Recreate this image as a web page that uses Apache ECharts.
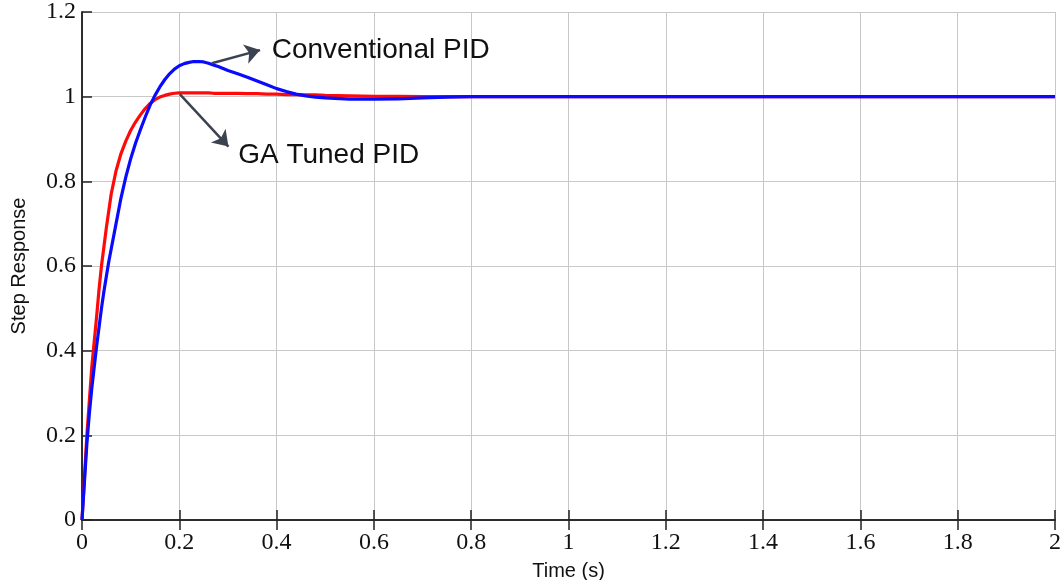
<!DOCTYPE html>
<html>
<head>
<meta charset="utf-8">
<script src="https://cdn.jsdelivr.net/npm/echarts@6/dist/echarts.min.js"></script>
<style>
  html, body { margin: 0; padding: 0; background: #fff; }
  #chart { width: 1063px; height: 580px; }
</style>
</head>
<body>
<div id="chart"></div>
<script>
// time samples (s)
const time = [0, 0.005, 0.01, 0.015, 0.02, 0.025, 0.03, 0.035, 0.04, 0.045, 0.05, 0.055, 0.06,
  0.07, 0.08, 0.09, 0.10, 0.11, 0.12, 0.13, 0.14, 0.15, 0.16, 0.17, 0.18, 0.19, 0.20,
  0.21, 0.22, 0.23, 0.24, 0.25, 0.26, 0.27, 0.28,
  0.30, 0.32, 0.34, 0.36, 0.38, 0.40, 0.42, 0.44, 0.46, 0.48, 0.50,
  0.55, 0.60, 0.65, 0.70, 0.75, 0.80,
  0.9, 1.0, 1.2, 1.4, 1.6, 1.8, 2.0]

// GA tuned PID response (red)
const gaTuned = [0, 0.10, 0.20, 0.28, 0.36, 0.42, 0.48, 0.545, 0.60, 0.645, 0.69, 0.73, 0.77,
  0.825, 0.865, 0.895, 0.92, 0.94, 0.957, 0.972, 0.984, 0.993, 0.999, 1.003, 1.006, 1.008, 1.009,
  1.009, 1.009, 1.009, 1.009, 1.009, 1.009, 1.008, 1.008,
  1.008, 1.008, 1.007, 1.007, 1.006, 1.006, 1.005, 1.005, 1.004, 1.004, 1.003,
  1.002, 1.001, 1.0005, 1.0, 1.0, 1.0,
  1.0, 1.0, 1.0, 1.0, 1.0, 1.0, 1.0]

// conventional PID response (blue)
const conventional = [0, 0.09, 0.18, 0.25, 0.31, 0.36, 0.41, 0.455, 0.50, 0.54, 0.575, 0.61, 0.64,
  0.70, 0.76, 0.81, 0.853, 0.89, 0.922, 0.952, 0.98, 1.003, 1.023, 1.040, 1.054, 1.065, 1.073,
  1.078, 1.081, 1.083, 1.083, 1.082, 1.079, 1.075, 1.071,
  1.062, 1.054, 1.046, 1.037, 1.028, 1.019, 1.012, 1.006, 1.002, 0.999, 0.997,
  0.994, 0.994, 0.995, 0.997, 0.999, 1.0,
  1.0, 1.0, 1.0, 1.0, 1.0, 1.0, 1.0]

// annotation anchors in data units
const convArrow = [[0.267, 1.079], [0.366, 1.110]]
const convText = [0.39, 1.109]
const gaArrow = [[0.201, 1.006], [0.301, 0.882]]
const gaText = [0.321, 0.862]

const arrowColor = '#3c4350'
const axisColor = '#222'
const labelFont = 'Liberation Sans, Arial, sans-serif'
const tickFont = 'Liberation Serif, Times New Roman, serif'

const pair = ys => time.map((t, i) => [t, ys[i]])

const annotate = (arrow, text, label) => ({
  markLine: {
    silent: true,
    symbol: ['none', 'arrow'],
    symbolSize: 15,
    label: { show: false },
    lineStyle: { color: arrowColor, width: 2.5, type: 'solid' },
    data: [[{ coord: arrow[0] }, { coord: arrow[1] }]],
  },
  markPoint: {
    silent: true,
    symbol: 'circle',
    symbolSize: 0,
    label: {
      show: true,
      position: 'right',
      distance: 0,
      formatter: label,
      color: '#111',
      fontSize: 28,
      fontFamily: labelFont,
    },
    data: [{ coord: text }],
  },
})

const spine = { lineStyle: { color: axisColor, width: 1.5 } }
const tick = { inside: true, length: 10, lineStyle: { color: axisColor, width: 1.5 } }
const gridLine = { show: true, lineStyle: { color: '#c8c8c8', width: 1 } }

const chart = echarts.init(document.getElementById('chart'))

chart.setOption({
  animation: false,
  grid: { left: 82, right: 8, top: 12, bottom: 60, containLabel: false, outerBoundsMode: 'none' },
  xAxis: [
    {
      type: 'value',
      min: 0,
      max: 2,
      interval: 0.2,
      name: 'Time (s)',
      nameLocation: 'middle',
      nameGap: 41,
      nameTextStyle: { color: '#111', fontSize: 20, fontFamily: labelFont },
      axisLine: spine,
      axisTick: tick,
      axisLabel: { color: '#111', fontSize: 24, fontFamily: tickFont, margin: 11 },
      splitLine: gridLine,
    },
    {
      type: 'value',
      position: 'top',
      min: 0,
      max: 2,
      interval: 0.2,
      axisLine: spine,
      axisTick: tick,
      axisLabel: { show: false },
      splitLine: { show: false },
    },
  ],
  yAxis: [
    {
      type: 'value',
      min: 0,
      max: 1.2,
      interval: 0.2,
      name: 'Step Response',
      nameLocation: 'middle',
      nameGap: 53,
      nameTextStyle: { color: '#111', fontSize: 20, fontFamily: labelFont },
      axisLine: { show: true, ...spine },
      axisTick: { show: true, ...tick },
      axisLabel: { color: '#111', fontSize: 24, fontFamily: tickFont, margin: 6 },
      splitLine: gridLine,
    },
    {
      type: 'value',
      position: 'right',
      min: 0,
      max: 1.2,
      interval: 0.2,
      axisLine: { show: true, ...spine },
      axisTick: { show: false },
      axisLabel: { show: false },
      splitLine: { show: false },
    },
  ],
  series: [
    {
      name: 'GA Tuned PID',
      type: 'line',
      data: pair(gaTuned),
      smooth: false,
      showSymbol: false,
      lineStyle: { color: '#ff0a0a', width: 3.2, join: 'round' },
      ...annotate(gaArrow, gaText, 'GA Tuned PID'),
    },
    {
      name: 'Conventional PID',
      type: 'line',
      data: pair(conventional),
      smooth: false,
      showSymbol: false,
      lineStyle: { color: '#0a0aff', width: 3.2, join: 'round' },
      ...annotate(convArrow, convText, 'Conventional PID'),
    },
  ],
})
</script>
</body>
</html>
